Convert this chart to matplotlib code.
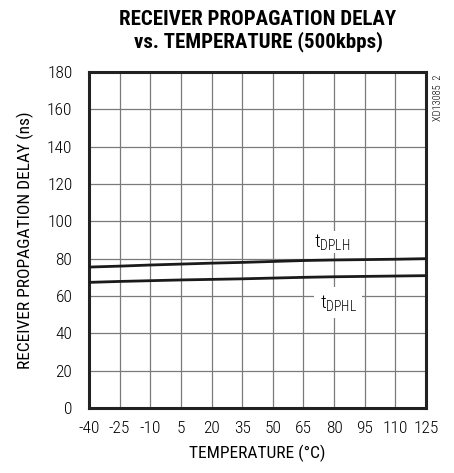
import matplotlib
matplotlib.use("Agg")
import matplotlib.pyplot as plt

temps = [-40, -25, -10, 5, 20, 35, 50, 65, 80, 95, 110, 125]
t_dplh = [75.5, 76.0, 76.6, 77.1, 77.6, 78.0, 78.5, 79.0, 79.3, 79.5, 79.7, 80.0]
t_dphl = [67.3, 67.8, 68.2, 68.6, 68.9, 69.2, 69.6, 70.0, 70.3, 70.5, 70.7, 70.9]
xticks = [-40, -25, -10, 5, 20, 35, 50, 65, 80, 95, 110, 125]
yticks = [0, 20, 40, 60, 80, 100, 120, 140, 160, 180]

plt.rcParams['font.family'] = ['Roboto Condensed', 'Archivo Narrow', 'DejaVu Sans']
plt.rcParams['font.weight'] = 'light'
plt.rcParams['mathtext.default'] = 'regular'

fig = plt.figure(figsize=(4.54, 4.73), dpi=100)
ax = fig.add_axes([89/454, 1-408/473, (426-89)/454, (408-72)/473])
ax.set_xlim(-40, 125)
ax.set_ylim(0, 180)
ax.set_xticks(xticks)
ax.set_yticks(yticks)
ax.set_xticklabels([str(t) for t in xticks], fontsize=12.5)
ax.set_yticklabels([str(t) for t in yticks], fontsize=12.5)
ax.tick_params(length=0)
ax.tick_params(axis='x', pad=9)
ax.tick_params(axis='y', pad=12)
ax.grid(True, color='#7a7a7a', linewidth=0.9)
ax.set_axisbelow(True)
for s in ax.spines.values():
    s.set_linewidth(2.2)
    s.set_color('#222222')

ax.plot(temps, t_dplh, color='#1a1a1a', linewidth=2.0, zorder=3)
ax.plot(temps, t_dphl, color='#1a1a1a', linewidth=2.0, zorder=3)

ax.text(79, 89, r'$t_{DPLH}$', fontsize=14, ha='center', va='center',
        zorder=4, bbox=dict(facecolor='white', edgecolor='none', pad=1.0))
ax.text(82, 56.5, r'$t_{DPHL}$', fontsize=14, ha='center', va='center',
        zorder=4, bbox=dict(facecolor='white', edgecolor='none', pad=4))

ax.set_xlabel('TEMPERATURE (°C)', fontsize=12.5, labelpad=7)
ax.set_ylabel('RECEIVER PROPAGATION DELAY (ns)', fontsize=12.5, labelpad=9)

fig.text(258/454, 1-31/473, 'RECEIVER PROPAGATION DELAY\nvs. TEMPERATURE (500kbps)',
         ha='center', va='center', fontsize=15, fontweight='bold', linespacing=1.1)
fig.text(438/454, 1-98/473, 'XD13085  2', rotation=90, ha='center', va='center', fontsize=7.5)

fig.savefig('out.png', dpi=100)
